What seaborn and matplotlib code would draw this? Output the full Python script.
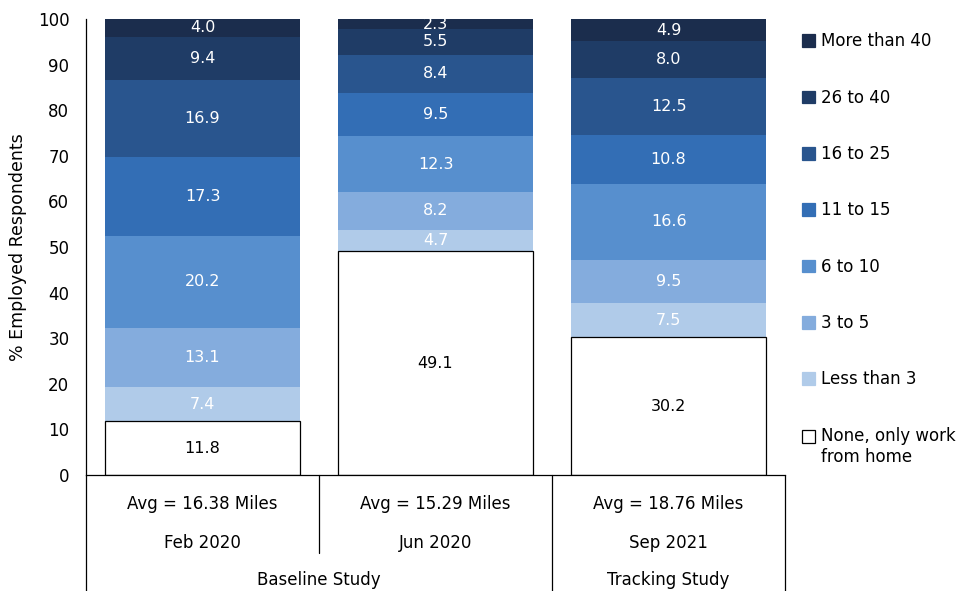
import numpy as np
import pandas as pd
import matplotlib
matplotlib.use('Agg')
import matplotlib.pyplot as plt
from matplotlib.legend_handler import HandlerPatch
import seaborn as sns

# categories (bottom -> top of each stack)
bands = ['None, only work\nfrom home', 'Less than 3', '3 to 5', '6 to 10',
         '11 to 15', '16 to 25', '26 to 40', 'More than 40']
periods = ['Feb 2020', 'Jun 2020', 'Sep 2021']
averages = ['Avg = 16.38 Miles', 'Avg = 15.29 Miles', 'Avg = 18.76 Miles']

feb_2020 = [11.8, 7.4, 13.1, 20.2, 17.3, 16.9, 9.4, 4.0]
jun_2020 = [49.1, 4.7, 8.2, 12.3, 9.5, 8.4, 5.5, 2.3]
sep_2021 = [30.2, 7.5, 9.5, 16.6, 10.8, 12.5, 8.0, 4.9]

colors = ['#ffffff', '#b0cbe9', '#84acdd', '#578fce', '#336eb5',
          '#29558e', '#1f3c66', '#1b2d4d']

sns.set_style('white')
plt.rcParams['font.family'] = ['DejaVu Sans']
plt.rcParams['text.color'] = 'black'
plt.rcParams['axes.labelcolor'] = 'black'
plt.rcParams['ytick.color'] = 'black'

vals = np.array([feb_2020, jun_2020, sep_2021])  # periods x bands
cum = vals.cumsum(axis=1)

fig = plt.figure(figsize=(9.76, 5.91), dpi=100)
ax = fig.add_axes([0.0881, 0.1963, 0.7163, 0.7716])

# draw cumulative totals top-down so each lower band covers the one above
handles = []
for i in range(len(bands) - 1, -1, -1):
    df = pd.DataFrame({'period': periods, 'total': cum[:, i]})
    edge = 'black' if i == 0 else 'none'
    sns.barplot(data=df, x='period', y='total', color=colors[i], saturation=1,
                width=0.837, edgecolor=edge, linewidth=0.9 if i == 0 else 0, ax=ax)
    handles.append(plt.Rectangle((0, 0), 1, 1, facecolor=colors[i],
                                 edgecolor='black' if i == 0 else colors[i], linewidth=0.9))

# segment labels (centred on the visible part of each segment)
for p in range(len(periods)):
    bottom = 0
    for i, v in enumerate(vals[p]):
        mid = (bottom + min(bottom + v, 100)) / 2
        ax.text(p, mid, f'{v:.1f}', ha='center', va='center', fontsize=11.5,
                color='black' if i == 0 else 'white')
        bottom += v

ax.set_ylim(0, 100)
ax.set_xlim(-0.5, 2.5)
ax.set_yticks(range(0, 101, 10))
ax.tick_params(axis='y', length=0, pad=12, labelsize=12)
ax.set_xticks([])
ax.set_xlabel('')
ax.set_ylabel('% Employed Respondents', fontsize=12.5, labelpad=8)
sns.despine(ax=ax, top=True, right=True)
for s in ['left', 'bottom']:
    ax.spines[s].set_color('black')
    ax.spines[s].set_linewidth(0.9)

# category table below the axis
tr = ax.get_xaxis_transform()
for x, y0 in [(-0.5, -0.26), (0.5, -0.171), (1.5, -0.26), (2.5, -0.26)]:
    ax.plot([x, x], [0, y0], color='black', lw=0.9, transform=tr, clip_on=False)
for p in range(len(periods)):
    ax.text(p, -0.0636, averages[p], ha='center', va='center', fontsize=12, transform=tr)
    ax.text(p, -0.149, periods[p], ha='center', va='center', fontsize=12, transform=tr)
ax.text(0.5, -0.230, 'Baseline Study', ha='center', va='center', fontsize=12, transform=tr)
ax.text(2, -0.230, 'Tracking Study', ha='center', va='center', fontsize=12, transform=tr)


# two-line legend entry: keep its square level with the first line
def top_square(legend, orig_handle, xdescent, ydescent, width, height, fontsize):
    return plt.Rectangle((-xdescent, -ydescent + 0.66 * fontsize), width, height)


ax.legend(handles=handles, labels=bands[::-1], loc='upper left',
          bbox_to_anchor=(1.014, 0.985), frameon=False, fontsize=12,
          handlelength=0.8, handleheight=0.8, handletextpad=0.35,
          labelspacing=2.3, borderaxespad=0,
          handler_map={handles[-1]: HandlerPatch(patch_func=top_square)})

fig.savefig('out.png', dpi=100)
